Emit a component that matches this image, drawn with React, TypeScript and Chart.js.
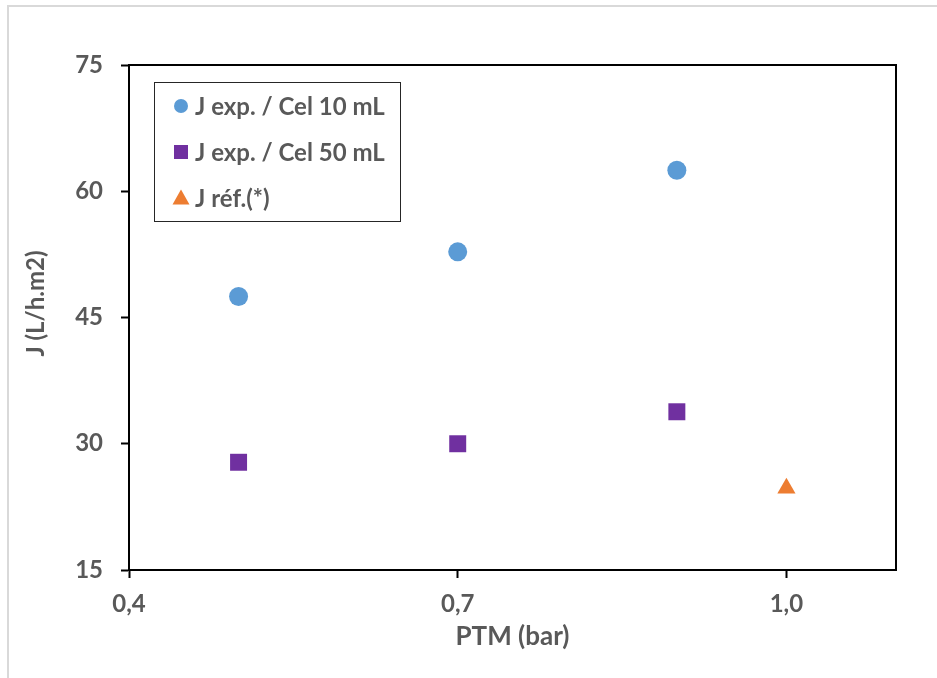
import React, { useEffect, useRef } from 'react';
import { Chart, registerables } from 'chart.js';

Chart.register(...registerables);

// Data
const ptm10 = [0.5, 0.7, 0.9];
const j10 = [47.5, 52.8, 62.5];
const ptm50 = [0.5, 0.7, 0.9];
const j50 = [27.8, 30.0, 33.8];
const ptmRef = [1.0];
const jRef = [24.7];
const xTicks = [0.4, 0.7, 1.0];
const yTicks = [15, 30, 45, 60, 75];
const seriesLabels = ['J exp. / Cel 10 mL', 'J exp. / Cel 50 mL', 'J réf.(*)'];
const xTitle = 'PTM (bar)';
const yTitle = 'J (L/h.m2)';

const TEXT = '#595959';
const FONT = 'Lato, "Open Sans", sans-serif';

const legendRadius = [7, 7, 8.5];

function drawMarker(ctx: CanvasRenderingContext2D, style: string, x: number, y: number, r: number) {
  ctx.beginPath();
  if (style === 'circle') {
    ctx.arc(x, y, r, 0, Math.PI * 2);
  } else if (style === 'rect') {
    ctx.rect(x - r, y - r, 2 * r, 2 * r);
  } else {
    ctx.moveTo(x, y - r);
    ctx.lineTo(x + r, y + r * 0.75);
    ctx.lineTo(x - r, y + r * 0.75);
    ctx.closePath();
  }
  ctx.fill();
}

const framePlugin = {
  id: 'frameLegend',
  afterDraw(chart: any) {
    const { ctx, chartArea: a } = chart;
    ctx.save();
    ctx.strokeStyle = '#000';
    ctx.lineWidth = 2;
    ctx.strokeRect(a.left, a.top, a.right - a.left, a.bottom - a.top);

    // y axis title
    ctx.save();
    ctx.translate(36, (a.top + a.bottom) / 2 - 14);
    ctx.rotate(-Math.PI / 2);
    ctx.fillStyle = TEXT;
    ctx.font = `bold 24px ${FONT}`;
    ctx.textAlign = 'center';
    ctx.textBaseline = 'middle';
    ctx.fillText(yTitle, 0, 0);
    ctx.restore();

    const bx = a.left + 25;
    const by = a.top + 17;
    const bw = 246;
    const bh = 139;
    ctx.fillStyle = '#fff';
    ctx.fillRect(bx, by, bw, bh);
    ctx.lineWidth = 1;
    ctx.strokeStyle = '#262626';
    ctx.strokeRect(bx + 0.5, by + 0.5, bw, bh);

    chart.data.datasets.forEach((ds: any, i: number) => {
      const cy = by + 24 + i * 46;
      const cx = bx + 27;
      ctx.fillStyle = ds.backgroundColor;
      drawMarker(ctx, ds.pointStyle, cx, cy, legendRadius[i]);
      ctx.fillStyle = TEXT;
      ctx.font = `bold 24px ${FONT}`;
      ctx.textBaseline = 'middle';
      ctx.textAlign = 'left';
      ctx.fillText(ds.label, bx + 41, cy + 1);
    });
    ctx.restore();
  },
};

export default function App() {
  const ref = useRef<HTMLCanvasElement | null>(null);

  useEffect(() => {
    if (!ref.current) return;
    const font = { family: FONT, size: 24, weight: 'bold' as const };
    const chart = new Chart(ref.current, {
      type: 'scatter',
      data: {
        datasets: [
          {
            label: seriesLabels[0],
            data: ptm10.map((x, i) => ({ x, y: j10[i] })),
            pointStyle: 'circle',
            pointRadius: 9.5,
            backgroundColor: '#5B9BD5',
            borderColor: '#5B9BD5',
            borderWidth: 0,
          },
          {
            label: seriesLabels[1],
            data: ptm50.map((x, i) => ({ x, y: j50[i] })),
            pointStyle: 'rect',
            pointRadius: 12,
            backgroundColor: '#7030A0',
            borderColor: '#7030A0',
            borderWidth: 0,
          },
          {
            label: seriesLabels[2],
            data: ptmRef.map((x, i) => ({ x, y: jRef[i] })),
            pointStyle: 'triangle',
            pointRadius: 10.5,
            backgroundColor: '#ED7D31',
            borderColor: '#ED7D31',
            borderWidth: 0,
          },
        ],
      },
      options: {
        animation: false,
        responsive: false,
        devicePixelRatio: 1,
        layout: { padding: { top: 65, right: 41, left: 0, bottom: 0 } },
        plugins: {
          legend: { display: false },
          tooltip: { enabled: false },
        },
        scales: {
          x: {
            type: 'linear',
            min: 0.4,
            max: 1.1,
            afterBuildTicks: (s: any) => {
              s.ticks = xTicks.map((v) => ({ value: v }));
            },
            afterFit: (s: any) => {
              s.height = 108;
            },
            grid: { drawOnChartArea: false, drawTicks: true, tickLength: 8, tickColor: '#000', tickWidth: 2 },
            border: { display: true, color: '#000', width: 2 },
            ticks: {
              font,
              color: TEXT,
              padding: 12,
              callback: (v: any) => Number(v).toFixed(1).replace('.', ','),
            },
            title: {
              display: true,
              text: xTitle,
              font: { ...font, size: 26 },
              color: TEXT,
              padding: { top: 0, bottom: 26 },
            },
          },
          y: {
            type: 'linear',
            min: 15,
            max: 75,
            afterBuildTicks: (s: any) => {
              s.ticks = yTicks.map((v) => ({ value: v }));
            },
            afterFit: (s: any) => {
              s.width = 129;
            },
            grid: { drawOnChartArea: false, drawTicks: true, tickLength: 8, tickColor: '#000', tickWidth: 2 },
            border: { display: true, color: '#000', width: 2 },
            ticks: { font, color: TEXT, padding: 18 },
            title: { display: false, text: yTitle },
          },
        },
      },
      plugins: [framePlugin],
    });
    return () => chart.destroy();
  }, []);

  return (
    <div style={{ position: 'absolute', left: 0, top: 0, width: 937, height: 678, background: '#fff' }}>
      <div
        style={{
          position: 'absolute',
          left: 7,
          top: 5,
          right: 0,
          bottom: 0,
          borderTop: '2px solid #d9d9d9',
          borderLeft: '2px solid #d9d9d9',
        }}
      />
      <canvas ref={ref} width={937} height={678} style={{ position: 'absolute', left: 0, top: 0 }} />
    </div>
  );
}
